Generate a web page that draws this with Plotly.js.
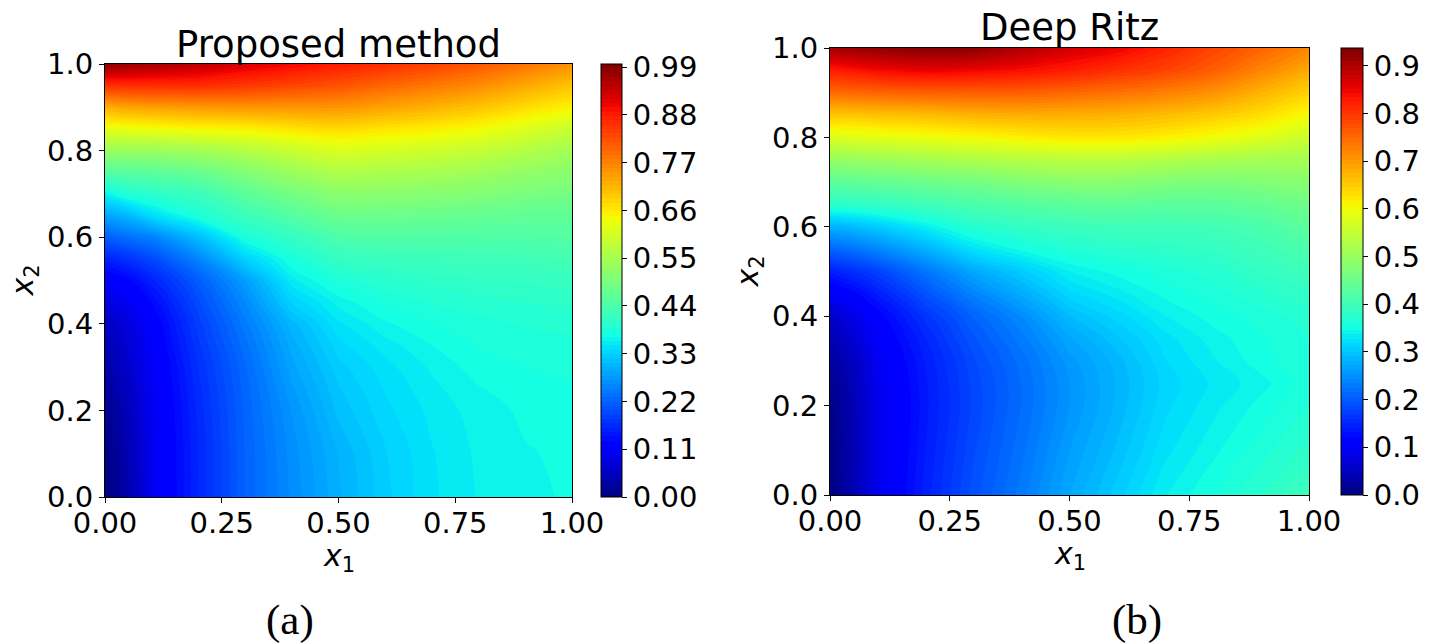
<!DOCTYPE html>
<html>
<head>
<meta charset="utf-8">
<script src="https://cdn.plot.ly/plotly-3.0.1.min.js"></script>
<style>
  html, body { margin: 0; padding: 0; background: #ffffff; }
  #chart { width: 1432px; height: 643px; }
</style>
</head>
<body>
<div id="chart"></div>
<script>
// Sample grid of the unit square (x1 across, x2 up)
const x1Grid = [0, 0.05, 0.1, 0.2, 0.3, 0.4, 0.5, 0.6, 0.7, 0.8, 0.9, 1.0];
const x2Grid = [0, 0.1, 0.2, 0.25, 0.3, 0.35, 0.4, 0.45, 0.5, 0.55, 0.6, 0.65,
                0.7, 0.75, 0.8, 0.85, 0.9, 0.95, 1.0];

// Solution values u(x1, x2), one row per x2 value
const proposedU = [
  [0.000, 0.040, 0.095, 0.160, 0.220, 0.262, 0.297, 0.326, 0.347, 0.360, 0.367, 0.370],
  [0.003, 0.042, 0.096, 0.160, 0.220, 0.264, 0.300, 0.328, 0.348, 0.361, 0.368, 0.371],
  [0.012, 0.050, 0.098, 0.163, 0.222, 0.270, 0.312, 0.336, 0.352, 0.364, 0.371, 0.375],
  [0.020, 0.057, 0.100, 0.166, 0.224, 0.277, 0.318, 0.340, 0.356, 0.368, 0.375, 0.378],
  [0.030, 0.065, 0.103, 0.170, 0.228, 0.285, 0.325, 0.345, 0.361, 0.374, 0.379, 0.381],
  [0.042, 0.072, 0.108, 0.177, 0.235, 0.293, 0.335, 0.354, 0.369, 0.380, 0.384, 0.386],
  [0.058, 0.080, 0.115, 0.185, 0.245, 0.305, 0.347, 0.367, 0.378, 0.385, 0.390, 0.392],
  [0.080, 0.100, 0.130, 0.197, 0.260, 0.330, 0.363, 0.381, 0.390, 0.395, 0.399, 0.402],
  [0.110, 0.125, 0.155, 0.215, 0.280, 0.355, 0.385, 0.396, 0.403, 0.408, 0.410, 0.415],
  [0.155, 0.172, 0.195, 0.255, 0.330, 0.380, 0.410, 0.418, 0.421, 0.424, 0.425, 0.430],
  [0.215, 0.235, 0.250, 0.310, 0.380, 0.410, 0.440, 0.445, 0.445, 0.445, 0.445, 0.450],
  [0.285, 0.305, 0.340, 0.385, 0.420, 0.450, 0.478, 0.478, 0.475, 0.470, 0.465, 0.465],
  [0.360, 0.390, 0.400, 0.420, 0.460, 0.490, 0.515, 0.515, 0.510, 0.505, 0.495, 0.490],
  [0.450, 0.455, 0.460, 0.475, 0.505, 0.535, 0.560, 0.555, 0.550, 0.540, 0.525, 0.515],
  [0.530, 0.535, 0.535, 0.545, 0.565, 0.590, 0.610, 0.605, 0.595, 0.585, 0.565, 0.545],
  [0.625, 0.630, 0.635, 0.645, 0.650, 0.665, 0.675, 0.665, 0.655, 0.640, 0.615, 0.590],
  [0.725, 0.735, 0.740, 0.745, 0.750, 0.750, 0.750, 0.735, 0.720, 0.700, 0.675, 0.650],
  [0.855, 0.860, 0.860, 0.860, 0.850, 0.835, 0.820, 0.800, 0.780, 0.760, 0.730, 0.700],
  [0.990, 0.975, 0.965, 0.945, 0.920, 0.900, 0.880, 0.860, 0.840, 0.815, 0.785, 0.755]
];

const deepRitzU = [
  [0.000, 0.042, 0.089, 0.145, 0.192, 0.230, 0.272, 0.305, 0.337, 0.356, 0.375, 0.398],
  [0.000, 0.041, 0.087, 0.141, 0.186, 0.222, 0.262, 0.293, 0.325, 0.344, 0.362, 0.378],
  [0.005, 0.043, 0.086, 0.138, 0.181, 0.216, 0.253, 0.284, 0.316, 0.334, 0.350, 0.365],
  [0.012, 0.047, 0.089, 0.139, 0.182, 0.216, 0.253, 0.283, 0.313, 0.330, 0.343, 0.362],
  [0.021, 0.054, 0.094, 0.142, 0.186, 0.220, 0.258, 0.286, 0.318, 0.336, 0.352, 0.364],
  [0.038, 0.067, 0.102, 0.150, 0.195, 0.230, 0.270, 0.298, 0.324, 0.342, 0.355, 0.366],
  [0.061, 0.084, 0.114, 0.164, 0.208, 0.245, 0.290, 0.314, 0.337, 0.351, 0.361, 0.370],
  [0.098, 0.117, 0.142, 0.192, 0.238, 0.275, 0.315, 0.333, 0.350, 0.361, 0.372, 0.383],
  [0.145, 0.159, 0.178, 0.225, 0.272, 0.305, 0.337, 0.351, 0.361, 0.370, 0.384, 0.398],
  [0.210, 0.222, 0.240, 0.280, 0.325, 0.350, 0.366, 0.375, 0.380, 0.386, 0.398, 0.414],
  [0.281, 0.290, 0.305, 0.337, 0.370, 0.384, 0.394, 0.398, 0.398, 0.403, 0.412, 0.431],
  [0.375, 0.379, 0.384, 0.398, 0.412, 0.422, 0.431, 0.436, 0.431, 0.431, 0.440, 0.454],
  [0.431, 0.436, 0.440, 0.450, 0.459, 0.473, 0.483, 0.483, 0.473, 0.469, 0.473, 0.483],
  [0.497, 0.501, 0.506, 0.515, 0.525, 0.534, 0.539, 0.539, 0.529, 0.520, 0.515, 0.515],
  [0.576, 0.581, 0.586, 0.595, 0.604, 0.614, 0.623, 0.623, 0.614, 0.600, 0.581, 0.558],
  [0.656, 0.656, 0.661, 0.665, 0.675, 0.679, 0.679, 0.675, 0.665, 0.651, 0.632, 0.604],
  [0.745, 0.750, 0.754, 0.759, 0.759, 0.759, 0.750, 0.740, 0.726, 0.707, 0.675, 0.642],
  [0.825, 0.834, 0.843, 0.853, 0.848, 0.839, 0.825, 0.806, 0.787, 0.759, 0.721, 0.684],
  [0.909, 0.918, 0.923, 0.932, 0.928, 0.900, 0.871, 0.853, 0.820, 0.787, 0.754, 0.721]
];

// Colour-bar limits and ticks
const proposedRange = [0, 0.997];
const deepRitzRange = [0, 0.937];
const proposedBarTicks = [0, 0.11, 0.22, 0.33, 0.44, 0.55, 0.66, 0.77, 0.88, 0.99];
const deepRitzBarTicks = [0, 0.1, 0.2, 0.3, 0.4, 0.5, 0.6, 0.7, 0.8, 0.9];
const xTicks = [0, 0.25, 0.5, 0.75, 1.0];
const yTicks = [0, 0.2, 0.4, 0.6, 0.8, 1.0];

const panelTitles = ['Proposed method', 'Deep Ritz'];
const captions = ['(a)', '(b)'];

// matplotlib "jet" colormap
const jet = [
  [0.000, 'rgb(0,0,128)'],
  [0.110, 'rgb(0,0,255)'],
  [0.125, 'rgb(0,0,255)'],
  [0.340, 'rgb(0,219,255)'],
  [0.350, 'rgb(0,230,247)'],
  [0.375, 'rgb(21,255,226)'],
  [0.640, 'rgb(239,255,8)'],
  [0.650, 'rgb(247,245,0)'],
  [0.660, 'rgb(255,236,0)'],
  [0.890, 'rgb(255,19,0)'],
  [0.910, 'rgb(232,0,0)'],
  [1.000, 'rgb(128,0,0)']
];

const W = 1432, H = 643;
const px = v => v / W;
const py = v => 1 - v / H;

const FONT = 'DejaVu Sans, sans-serif';
const tickFont = { family: FONT, size: 29, color: '#000' };

function fieldTrace(z, range, barTicks, digits, axX, axY, bar) {
  const nLevels = 100;
  return {
    type: 'contour',
    x: x1Grid, y: x2Grid, z: z,
    xaxis: axX, yaxis: axY,
    colorscale: jet,
    zauto: false, zmin: range[0], zmax: range[1],
    autocontour: false,
    contours: { start: range[0], end: range[1], size: (range[1] - range[0]) / nLevels,
                coloring: 'fill', showlines: false },
    line: { width: 0, smoothing: 1 },
    hoverinfo: 'skip',
    colorbar: {
      x: px(bar.left), xanchor: 'left', xpad: 0,
      y: py((bar.top + bar.bottom) / 2), yanchor: 'middle', ypad: 0,
      len: bar.bottom - bar.top, lenmode: 'pixels',
      thickness: bar.width, thicknessmode: 'pixels',
      outlinewidth: 1, outlinecolor: '#000',
      tickmode: 'array', tickvals: barTicks,
      ticktext: barTicks.map(v => v.toFixed(digits)),
      ticks: 'outside', ticklen: 5, tickwidth: 1, tickcolor: '#000',
      tickfont: tickFont
    }
  };
}

const data = [
  fieldTrace(proposedU, proposedRange, proposedBarTicks, 2, 'x', 'y',
             { left: 601, top: 64, bottom: 497, width: 21 }),
  fieldTrace(deepRitzU, deepRitzRange, deepRitzBarTicks, 1, 'x2', 'y2',
             { left: 1341, top: 48, bottom: 495, width: 22 })
];

function axis(domain, anchor, ticks, digits, standoff) {
  return {
    domain: domain, anchor: anchor, range: [0, 1],
    tickmode: 'array', tickvals: ticks, ticktext: ticks.map(v => v.toFixed(digits)),
    ticks: 'outside', ticklen: 5, tickwidth: 1, tickcolor: '#000',
    ticklabelstandoff: standoff,
    showline: true, mirror: true, linecolor: '#000', linewidth: 1,
    showgrid: false, zeroline: false, tickfont: tickFont, fixedrange: true
  };
}

// Plot frames in pixels: [left, right, top, bottom]
const frameA = [105, 572, 64, 497];
const frameB = [830, 1309, 48, 495];

const layout = {
  width: W, height: H,
  margin: { l: 0, r: 0, t: 0, b: 0 },
  paper_bgcolor: '#fff', plot_bgcolor: '#fff',
  showlegend: false,
  xaxis: axis([px(frameA[0]), px(frameA[1])], 'y', xTicks, 2, -5),
  yaxis: axis([py(frameA[3]), py(frameA[2])], 'x', yTicks, 1, 0),
  xaxis2: axis([px(frameB[0]), px(frameB[1])], 'y2', xTicks, 2, -5),
  yaxis2: axis([py(frameB[3]), py(frameB[2])], 'x2', yTicks, 1, 0),
  annotations: []
};

function label(text, xPix, yPix, size, family, angle) {
  return {
    text: text, xref: 'paper', yref: 'paper',
    x: px(xPix), y: py(yPix), xanchor: 'center', yanchor: 'middle',
    showarrow: false, textangle: angle || 0,
    font: { family: family, size: size, color: '#000' }
  };
}

const ax1 = '<i>x</i><sub>1</sub>';
const ax2 = '<i>x</i><sub>2</sub>';
[frameA, frameB].forEach((f, i) => {
  const cx = (f[0] + f[1]) / 2;
  const cy = (f[2] + f[3]) / 2;
  layout.annotations.push(label(panelTitles[i], cx, f[2] - 20, 37, FONT));
  layout.annotations.push(label(ax1, cx, f[3] + 60, 30, FONT));
  layout.annotations.push(label(ax2, f[0] - 81, cy, 30, FONT, -90));
});
layout.annotations.push(label(captions[0], 290, 620, 43, 'Liberation Serif, serif'));
layout.annotations.push(label(captions[1], 1137, 620, 43, 'Liberation Serif, serif'));

Plotly.newPlot('chart', data, layout, { displayModeBar: false, staticPlot: true });
</script>
</body>
</html>
